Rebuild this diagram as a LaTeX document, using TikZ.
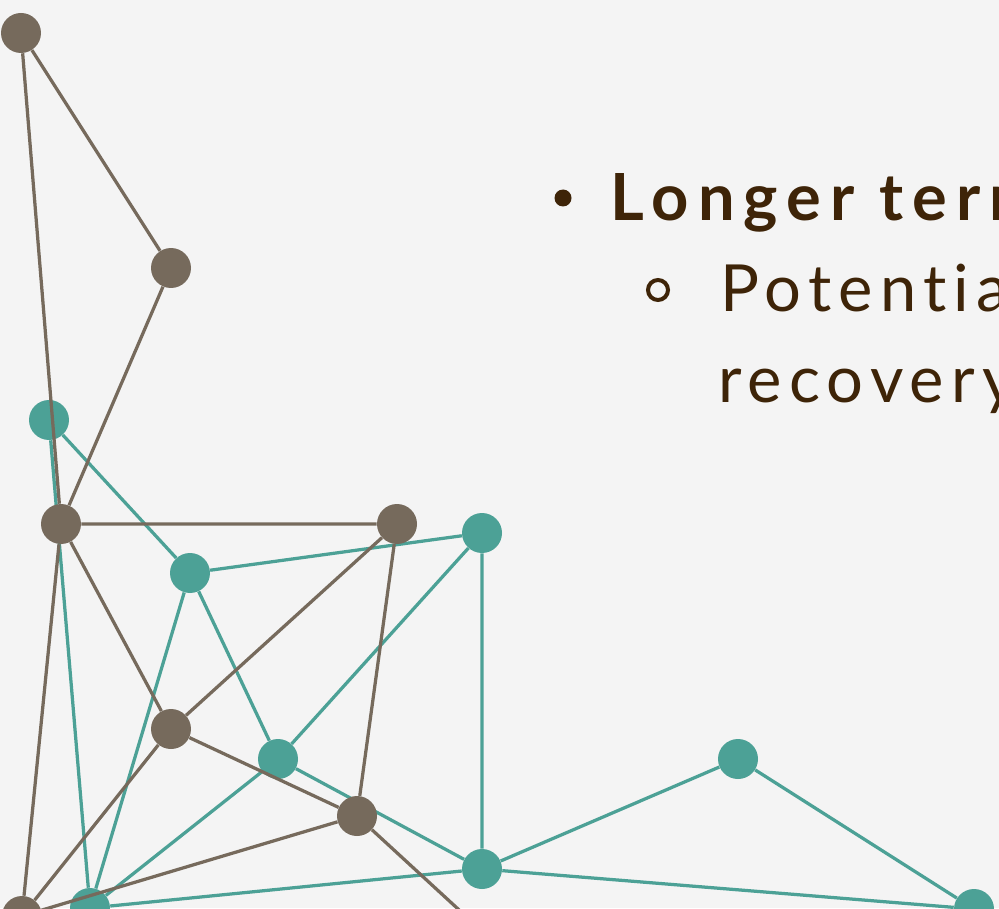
\documentclass[tikz,border=0pt]{standalone}
\usepackage{fontspec}
\setmainfont{Lato}
\newfontfamily\listfont[LetterSpace=11,Ligatures={NoCommon,NoRare}]{Lato}
\newfontfamily\listboldfont[LetterSpace=14,Ligatures={NoCommon,NoRare}]{Lato Bold}
\definecolor{bg}{HTML}{F4F4F4}
\definecolor{umber}{HTML}{766A5C}
\definecolor{jade}{HTML}{4CA196}
\definecolor{ink}{HTML}{3E2408}
\pgfdeclarelayer{jadelines}
\pgfdeclarelayer{jadedots}
\pgfdeclarelayer{umberlines}
\pgfsetlayers{jadelines,jadedots,umberlines,main}
\begin{document}
\begin{tikzpicture}[x=0.02cm,y=-0.02cm,
  dot/.style={circle,inner sep=0pt,minimum size=0.8cm},
  umberdot/.style={dot,fill=umber},
  jadedot/.style={dot,fill=jade},
  umberedge/.style={draw=umber,line width=0.065cm},
  jadeedge/.style={draw=jade,line width=0.065cm},
  item/.style={anchor=base west,inner sep=0pt,text=ink}]
\begin{pgfonlayer}{jadelines}
\useasboundingbox (0,0) rectangle (999,908);
\clip (0,0) rectangle (999,908);
\fill[bg] (0,0) rectangle (999,908);
\end{pgfonlayer}

% teal network: dots on their own layer, links beneath them
\begin{pgfonlayer}{jadedots}
\clip (0,0) rectangle (999,908);
\node[jadedot] (t1) at (49,420) {};
\node[jadedot] (t2) at (190,573) {};
\node[jadedot] (t3) at (482,533) {};
\node[jadedot] (t4) at (278,759) {};
\node[jadedot] (t5) at (482,869) {};
\node[jadedot] (t6) at (738,759) {};
\node[jadedot] (t7) at (974,909) {};
\node[jadedot] (t8) at (90,908) {};
\end{pgfonlayer}
\begin{pgfonlayer}{jadelines}
\clip (0,0) rectangle (999,908);
\path[jadeedge]
  (t1) -- (t8)
  (t1) -- (t2)
  (t2) -- (t3)
  (t2) -- (t4)
  (t2) -- (t8)
  (t3) -- (t4)
  (t3) -- (t5)
  (t4) -- (t8)
  (t4) -- (t5)
  (t5) -- (t8)
  (t5) -- (t6)
  (t6) -- (t7)
  (t5) -- (t7);
\end{pgfonlayer}

% brown network, drawn over the teal one
\clip (0,0) rectangle (999,908);
\node[umberdot] (b1) at (21,33) {};
\node[umberdot] (b2) at (171,268) {};
\node[umberdot] (b3) at (61,524) {};
\node[umberdot] (b4) at (397,524) {};
\node[umberdot] (b5) at (171,729) {};
\node[umberdot] (b6) at (357,816) {};
\node[umberdot] (b7) at (22,916) {};
\coordinate (bout) at (520,966);
\begin{pgfonlayer}{umberlines}
\clip (0,0) rectangle (999,908);
\path[umberedge]
  (b1) -- (b2)
  (b1) -- (b3)
  (b2) -- (b3)
  (b3) -- (b4)
  (b3) -- (b5)
  (b3) -- (b7)
  (b4) -- (b5)
  (b4) -- (b6)
  (b5) -- (b6)
  (b5) -- (b7)
  (b6) -- (b7)
  (b6) -- (bout);
\end{pgfonlayer}

% bullet list
\node[circle,fill=ink,inner sep=0pt,minimum size=0.34cm] (dot1) at (563,198) {};
\node[circle,draw=ink,line width=0.08cm,inner sep=0pt,minimum size=0.4cm] (dot2) at (658,290) {};
\node[item,font={\listboldfont\fontsize{37}{44}\selectfont}] (l1) at (610,221) {Longer term};
\node[item,font={\listfont\fontsize{37}{44}\selectfont}] (l2) at (720,312) {Potential};
\node[item,font={\listfont\fontsize{37}{44}\selectfont}] (l3) at (718,402) {recovery};
\end{tikzpicture}
\end{document}
